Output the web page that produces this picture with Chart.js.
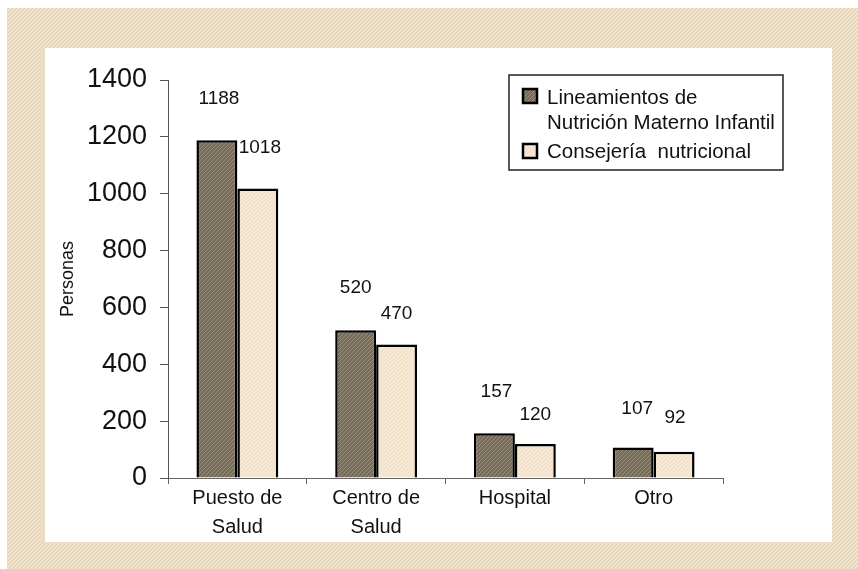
<!DOCTYPE html>
<html>
<head>
<meta charset="utf-8">
<title>Personas</title>
<script src="https://cdn.jsdelivr.net/npm/chart.js@4.4.1/dist/chart.umd.min.js"></script>
<style>
  body { margin: 0; background: #efe2cd; }
  canvas { display: block; }
</style>
</head>
<body>
<canvas id="placesChart" width="858" height="569"></canvas>
<script>
// data
const categories = [['Puesto de', 'Salud'], ['Centro de', 'Salud'], 'Hospital', 'Otro'];
const lineamientos = [1188, 520, 157, 107];
const consejeria = [1018, 470, 120, 92];
const yTicks = [0, 200, 400, 600, 800, 1000, 1200, 1400];

// where each value label sits relative to its bar top (dx, dy)
const darkLabelShift = [[2, -42], [0, -42], [2, -42], [4, -39]];
const lightLabelShift = [[2, -41], [0, -31], [0, -29], [1, -34]];

const FONT = '"Liberation Sans", Arial, sans-serif';

// small texture for the bars and the paper, like the printed hatch
function makePattern(base, dots) {
  const c = document.createElement('canvas');
  c.width = 4; c.height = 4;
  const g = c.getContext('2d');
  g.fillStyle = base;
  g.fillRect(0, 0, 4, 4);
  g.fillStyle = dots;
  g.fillRect(0, 0, 1, 1);
  g.fillRect(2, 2, 1, 1);
  g.fillRect(1, 3, 1, 1);
  g.fillRect(3, 1, 1, 1);
  return g.createPattern(c, 'repeat');
}
const darkFill = makePattern('#766c5b', '#9a907c');
const lightFill = makePattern('#f6e9d8', '#ecd9c2');
const paperFill = makePattern('#efe2cd', '#e3d1b6');

// page background + white panel
const panelPlugin = {
  id: 'panel',
  beforeDraw(chart) {
    const ctx = chart.ctx;
    ctx.save();
    ctx.fillStyle = '#ffffff';
    ctx.fillRect(0, 0, chart.width, chart.height);
    ctx.fillStyle = paperFill;
    ctx.fillRect(7, 8, chart.width - 7, chart.height - 8);
    ctx.fillStyle = '#ffffff';
    ctx.fillRect(45, 48, 787, 494);
    ctx.restore();
  }
};

// value labels above bars
const valueLabels = {
  id: 'valueLabels',
  afterDatasetsDraw(chart) {
    const ctx = chart.ctx;
    ctx.save();
    ctx.font = '19px ' + FONT;
    ctx.fillStyle = '#111';
    ctx.textAlign = 'center';
    ctx.textBaseline = 'middle';
    chart.data.datasets.forEach((ds, i) => {
      const shifts = i === 0 ? darkLabelShift : lightLabelShift;
      chart.getDatasetMeta(i).data.forEach((bar, j) => {
        ctx.fillText(ds.data[j], bar.x + shifts[j][0], bar.y + shifts[j][1]);
      });
    });
    ctx.restore();
  }
};

// boxed legend in the upper right
const boxLegend = {
  id: 'boxLegend',
  afterDraw(chart) {
    const ctx = chart.ctx;
    ctx.save();
    ctx.strokeStyle = '#222';
    ctx.lineWidth = 1.5;
    ctx.strokeRect(509, 75, 274, 95);

    ctx.font = '20.5px ' + FONT;
    ctx.textBaseline = 'middle';
    ctx.strokeStyle = '#000';
    ctx.lineWidth = 2.5;

    ctx.fillStyle = darkFill;
    ctx.fillRect(523, 89, 14, 14);
    ctx.strokeRect(523, 89, 14, 14);
    ctx.fillStyle = '#111';
    ctx.fillText('Lineamientos de', 547, 98);
    ctx.fillText('Nutrición Materno Infantil', 547, 123);

    ctx.fillStyle = lightFill;
    ctx.fillRect(523, 144, 14, 14);
    ctx.strokeRect(523, 144, 14, 14);
    ctx.fillStyle = '#111';
    ctx.fillText('Consejería  nutricional', 547, 152);
    ctx.restore();
  }
};

const ctx = document.getElementById('placesChart').getContext('2d');
const placesChart = new Chart(ctx, {
  type: 'bar',
  data: {
    labels: categories,
    datasets: [
      {
        label: 'Lineamientos de Nutrición Materno Infantil',
        data: lineamientos,
        backgroundColor: darkFill,
        borderColor: '#000',
        borderWidth: 2.5
      },
      {
        label: 'Consejería nutricional',
        data: consejeria,
        backgroundColor: lightFill,
        borderColor: '#000',
        borderWidth: 2.5
      }
    ]
  },
  options: {
    responsive: false,
    animation: false,
    datasets: { bar: { barPercentage: 1, categoryPercentage: 0.59 } },
    layout: { padding: { left: 53, top: 80, right: 135, bottom: 0 } },
    plugins: {
      legend: { display: false },
      tooltip: { enabled: false }
    },
    scales: {
      x: {
        grid: { offset: true, drawOnChartArea: false, tickLength: 6, color: '#666' },
        border: { color: '#666', width: 1 },
        ticks: { font: { family: FONT, size: 20, lineHeight: 1.45 }, color: '#111', padding: 0, maxRotation: 0 },
        afterFit(scale) { scale.height = 91; }
      },
      y: {
        min: 0,
        max: 1400,
        afterBuildTicks(scale) { scale.ticks = yTicks.map(v => ({ value: v })); },
        grid: { drawOnChartArea: false, tickLength: 8, color: '#555' },
        border: { color: '#555', width: 1 },
        ticks: {
          font: { family: FONT, size: 27 },
          color: '#111',
          padding: 13,
          callback: value => String(value)
        },
        title: { display: true, text: 'Personas', font: { family: FONT, size: 18 }, color: '#111' },
        afterFit(scale) { scale.width = 115; }
      }
    }
  },
  plugins: [panelPlugin, valueLabels, boxLegend]
});
</script>
</body>
</html>
